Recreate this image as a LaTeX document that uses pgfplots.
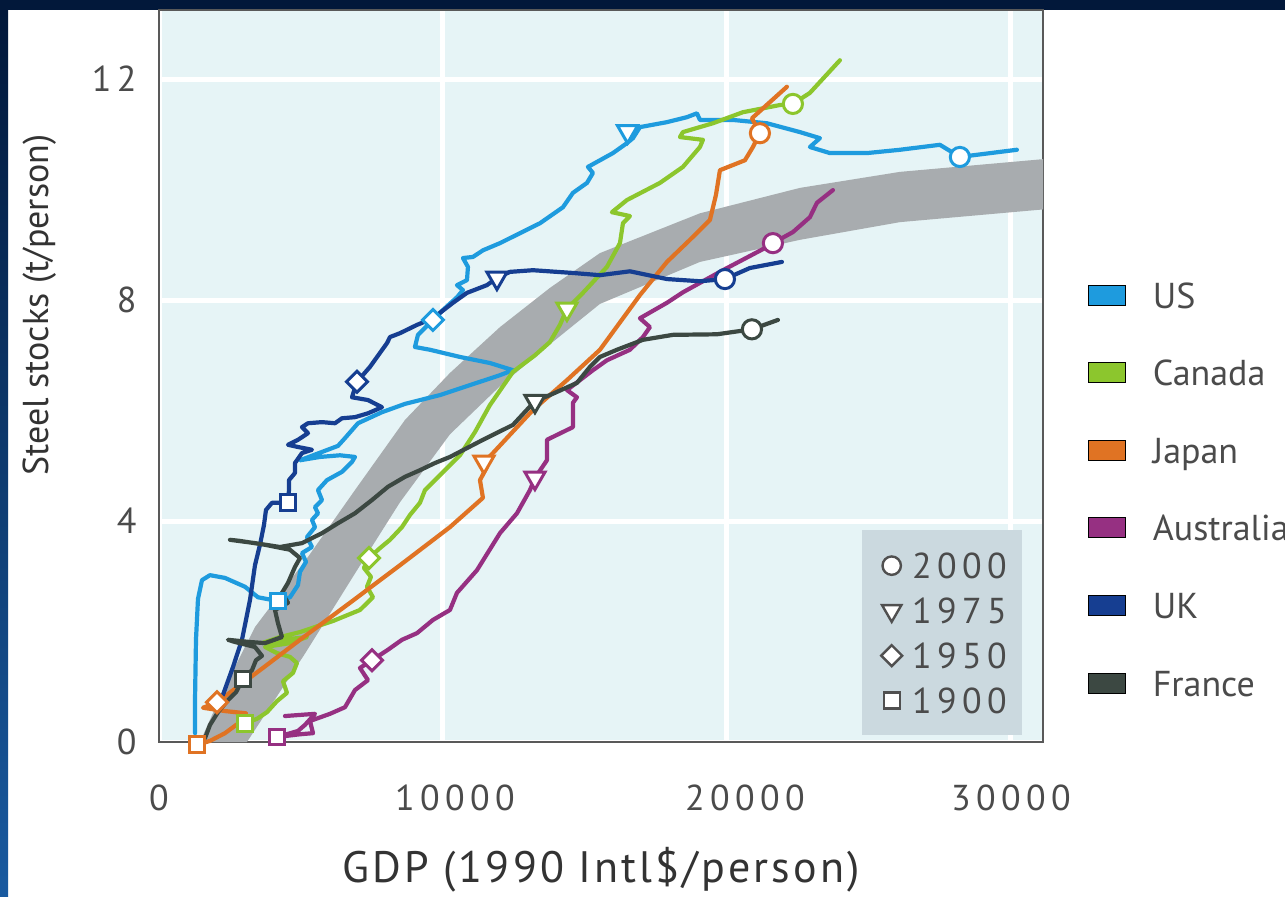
\documentclass[border=0pt]{standalone}
\usepackage{fontspec}
\setmainfont{PT Sans}
\newfontfamily\tickfont{PT Sans}[LetterSpace=15]
\newfontfamily\xlabfont{PT Sans}[LetterSpace=7]
\usepackage{pgfplots}
\pgfplotsset{compat=1.18}

\definecolor{navy}{RGB}{2,24,58}
\definecolor{stripb}{RGB}{25,90,160}
\definecolor{plotbg}{RGB}{230,244,246}
\definecolor{bandc}{RGB}{168,172,175}
\definecolor{usc}{RGB}{30,155,222}
\definecolor{cac}{RGB}{140,198,45}
\definecolor{jpc}{RGB}{224,115,35}
\definecolor{auc}{RGB}{150,48,130}
\definecolor{ukc}{RGB}{22,62,145}
\definecolor{frc}{RGB}{60,72,66}
\definecolor{insetbg}{RGB}{203,217,223}
\definecolor{txt}{RGB}{75,75,75}
\definecolor{mkgray}{RGB}{80,80,80}

\pgfplotsset{
  cline/.style={line width=2.1pt, line join=round, line cap=round, forget plot, mark=none, draw=#1},
  mc/.style={only marks, forget plot, mark=*, mark size=4.8pt, mark options={fill=white, draw=#1, line width=1.5pt}},
  mt/.style={only marks, forget plot, mark=triangle*, mark size=5.8pt, mark options={fill=white, draw=#1, line width=1.5pt, rotate=180}},
  md/.style={only marks, forget plot, mark=square*, mark size=3.7pt, mark options={fill=white, draw=#1, line width=1.5pt, rotate=45}},
  ms/.style={only marks, forget plot, mark=square*, mark size=3.9pt, mark options={fill=white, draw=#1, line width=1.5pt}},
}

\begin{document}
\begin{tikzpicture}
% page frame
\fill[navy] (0,0) rectangle (642.5pt,448pt);
\fill[white] (4pt,0) rectangle (642.5pt,443pt);
\shade[top color=navy, bottom color=stripb] (0,0) rectangle (4pt,443pt);

\begin{axis}[
  scale only axis, width=442pt, height=366pt,
  at={(79.5pt,77pt)}, anchor=origin,
  xmin=0, xmax=31130, ymin=0, ymax=13.25,
  clip=false,
  scaled x ticks=false, scaled y ticks=false,
  axis background/.style={fill=plotbg},
  axis line style={draw=black!65, line width=0.6pt},
  xtick={0,10000,20000,30000}, ytick={0,4,8,12},
  xticklabels={0,\hspace*{12pt}10000,\hspace*{18pt}20000,30000}, yticklabels={0,4,8,12},
  major tick length=0pt,
  grid=major, major grid style={white, line width=2.5pt},
  tick label style={font=\tickfont\fontsize{18}{21}\selectfont, text=txt},
  xticklabel style={inner sep=0pt, anchor=north, yshift=-21pt},
  yticklabel style={inner sep=0pt, anchor=east, xshift=-11pt},
  xlabel={GDP (1990 Intl\$/person)}, ylabel={Steel stocks (t/person)},
  xlabel style={font=\xlabfont\fontsize{22}{26}\selectfont, text=black!80, at={(axis description cs:0.5,-0.175)}, anchor=center},
  ylabel style={font=\fontsize{18}{22}\selectfont, text=black!80, at={(axis description cs:-0.135,0.597)}, anchor=center},
  legend style={at={(axis description cs:1.0509,0.6284)}, anchor=north west,
    draw=none, fill=none, inner sep=0pt, outer sep=0pt,
    font=\fontsize{18}{21}\selectfont, text=txt, row sep=25.8pt,
    nodes={inner sep=0pt, text height=13pt, text depth=0pt},
    /tikz/every odd column/.append style={column sep=13.5pt}},
  legend cell align=left,
  legend image code/.code={\fill[#1] (0pt,-5pt) rectangle (18.5pt,5pt);},
]
% grey band
\addplot[fill=bandc, draw=none, forget plot] coordinates {
(1444,0) (2218,0.89) (3380,2.08) (5246,3.35) (6901,4.56) (8662,5.83) (10246,6.68) (12007,7.51) (13767,8.22) (15528,8.85) (19049,9.57) (22570,10.03) (26091,10.32) (31130,10.55)
(31130,9.64) (26091,9.41) (22570,9.09) (19049,8.69) (15528,7.93) (13767,7.20) (12007,6.44) (10246,5.57) (8486,4.34) (6901,3.05) (5141,1.60) (3098,0)
} -- cycle;

% US
\addplot[cline=usc] coordinates {
(1268,0.16) (1268,0.76) (1303,1.86) (1373,2.59) (1514,2.93) (1796,3.02) (2324,2.97) (3028,2.81) (3486,2.62) (4190,2.55) (4613,2.62) (4894,2.84) (4965,3.08) (5176,3.26) (5035,3.42) (5387,3.53) (5211,3.71) (5493,3.89) (5387,4.02) (5598,4.14) (5493,4.25) (5739,4.38) (5598,4.56) (5915,4.74) (6443,4.89) (6796,5.07) (6901,5.16) (6373,5.19) (5669,5.16) (4965,5.10) (6303,5.36) (6549,5.50) (7007,5.77) (7852,5.97) (8662,6.12) (9894,6.28) (10950,6.46) (12007,6.64) (12464,6.73) (11655,6.86) (10598,6.97) (9542,7.10) (9014,7.15) (9119,7.37) (9648,7.64) (10000,7.82) (10493,8.05) (10704,8.18) (10493,8.27) (10845,8.36) (10880,8.60) (10704,8.76) (11056,8.78) (11408,8.90) (12007,9.03) (13415,9.39) (14225,9.68) (14577,9.94) (15070,10.12) (15281,10.30) (15105,10.41) (15528,10.53) (15985,10.66) (16478,10.84) (16690,10.93) (16936,11.13) (17887,11.22) (18591,11.31) (18943,11.38) (19049,11.26) (20211,11.26) (21408,11.20) (22570,11.04) (23274,10.93) (22922,10.77) (23626,10.66) (24929,10.66) (26091,10.72) (27499,10.81) (28203,10.59) (28661,10.62) (30210,10.72)
};
% Canada
\addplot[cline=cac] coordinates {
(3028,0.34) (3451,0.42) (3803,0.54) (4155,0.74) (4507,0.89) (4366,1.10) (4718,1.25) (4859,1.43) (4613,1.54) (4155,1.61) (3732,1.72) (4613,1.79) (5211,1.90) (4331,1.85) (3627,1.79) (4260,1.90) (4965,1.99) (6127,2.19) (7077,2.39) (7535,2.62) (7324,2.81) (7465,2.99) (7218,3.15) (7394,3.33) (7781,3.51) (8134,3.66) (8556,3.89) (8838,4.11) (9190,4.33) (9366,4.56) (9894,4.83) (10598,5.19) (11126,5.61) (11655,6.10) (12464,6.70) (13239,7.00) (13767,7.24) (14119,7.55) (14366,7.84) (14929,8.13) (15774,8.60) (16232,9.03) (16338,9.39) (16584,9.52) (15950,9.59) (16478,9.81) (17640,10.12) (18450,10.41) (19049,10.77) (19154,10.90) (18345,10.95) (18450,11.04) (19506,11.20) (20563,11.40) (21866,11.53) (22323,11.55) (22922,11.75) (23978,12.34)
};
% Japan
\addplot[cline=jpc] coordinates {
(1338,-0.05) (1796,0.02) (2324,0.16) (2852,0.36) (3063,0.52) (2324,0.56) (1549,0.62) (2042,0.72) (3556,1.30) (4965,1.85) (6725,2.52) (8486,3.20) (10246,3.89) (11408,4.42) (11303,4.74) (11549,4.98) (11443,5.07) (11760,5.23) (13169,6.01) (14366,6.55) (15528,7.10) (16936,8.09) (17887,8.69) (18697,9.09) (19401,9.45) (19612,9.90) (19753,10.35) (20633,10.53) (20915,10.77) (21161,11.02) (20880,11.29) (22112,11.86)
};
% Australia
\addplot[cline=auc] coordinates {
(4437,0.47) (5493,0.51) (5141,0.31) (4894,0.20) (4155,0.09) (4965,0.14) (5423,0.16) (5317,0.38) (6021,0.51) (6549,0.63) (6901,0.94) (7359,1.12) (7077,1.34) (7500,1.48) (8063,1.67) (8556,1.85) (9084,1.97) (9648,2.21) (10246,2.39) (10493,2.70) (11197,3.11) (12007,3.78) (12605,4.14) (13063,4.56) (13239,4.78) (13661,5.10) (13661,5.47) (14577,5.70) (14577,6.14) (14718,6.24) (14366,6.37) (15281,6.73) (15774,6.91) (16584,7.10) (17042,7.33) (17288,7.51) (16936,7.67) (17887,7.95) (18450,8.14) (19858,8.54) (21408,8.96) (21619,9.03) (22323,9.23) (22922,9.50) (23169,9.76) (23732,9.99)
};
% UK
\addplot[cline=ukc] coordinates {
(2250,0.85) (2600,1.35) (2922,1.85) (3204,2.57) (3380,3.20) (3556,3.57) (3697,3.93) (3767,4.20) (3979,4.33) (4542,4.33) (4577,4.56) (4577,4.74) (4789,4.87) (4789,5.05) (5035,5.23) (5387,5.29) (4894,5.34) (4542,5.38) (4894,5.47) (5246,5.59) (5035,5.70) (5246,5.77) (5739,5.79) (6197,5.77) (6443,5.86) (6901,5.88) (7359,5.95) (7852,6.06) (7359,6.19) (6796,6.24) (6901,6.41) (6972,6.52) (7429,6.79) (8028,7.22) (8134,7.33) (8486,7.40) (9084,7.55) (9648,7.67) (10352,7.95) (10845,8.13) (11549,8.27) (11901,8.40) (12359,8.51) (13169,8.54) (14577,8.49) (15528,8.45) (16584,8.52) (17887,8.38) (19049,8.34) (19929,8.38) (20809,8.58) (21936,8.69)
};
% France
\addplot[cline=frc] coordinates {
(1620,0.07) (1796,0.31) (2077,0.54) (2429,0.76) (2711,0.90) (2958,1.14) (3275,1.30) (3415,1.48) (3627,1.56) (3380,1.72) (2676,1.81) (2429,1.85) (3204,1.81) (3732,1.79) (4331,1.90) (4190,2.15) (4084,2.39) (4542,2.52) (4331,2.70) (4542,2.88) (4789,3.17) (4965,3.33) (4613,3.48) (3732,3.57) (2852,3.64) (2500,3.66) (3380,3.60) (4260,3.53) (5035,3.60) (5739,3.78) (6303,3.96) (6901,4.14) (7500,4.38) (8063,4.62) (8662,4.80) (9190,4.92) (9718,5.05) (10246,5.16) (11408,5.47) (12464,5.74) (13239,6.17) (13767,6.28) (14718,6.50) (15176,6.79) (15528,6.97) (16126,7.10) (17042,7.28) (18098,7.37) (19647,7.38) (20880,7.47) (21795,7.64)
};

% year markers
\addplot[ms=usc] coordinates {(4190,2.55)};
\addplot[md=usc] coordinates {(9648,7.64)};
\addplot[mt=usc] coordinates {(16500,11.05)};
\addplot[mc=usc] coordinates {(28203,10.59)};
\addplot[ms=cac] coordinates {(3028,0.34)};
\addplot[md=cac] coordinates {(7394,3.33)};
\addplot[mt=cac] coordinates {(14366,7.84)};
\addplot[mc=cac] coordinates {(22323,11.55)};
\addplot[ms=jpc] coordinates {(1338,-0.05)};
\addplot[md=jpc] coordinates {(2042,0.72)};
\addplot[mt=jpc] coordinates {(11443,5.07)};
\addplot[mc=jpc] coordinates {(21161,11.02)};
\addplot[ms=auc] coordinates {(4155,0.09)};
\addplot[md=auc] coordinates {(7500,1.48)};
\addplot[mt=auc] coordinates {(13239,4.78)};
\addplot[mc=auc] coordinates {(21619,9.03)};
\addplot[ms=ukc] coordinates {(4542,4.33)};
\addplot[md=ukc] coordinates {(6972,6.52)};
\addplot[mt=ukc] coordinates {(11901,8.40)};
\addplot[mc=ukc] coordinates {(19929,8.38)};
\addplot[ms=frc] coordinates {(2958,1.14)};
\addplot[mt=frc] coordinates {(13239,6.17)};
\addplot[mc=frc] coordinates {(20880,7.47)};

% inset box background
\fill[insetbg] (axis description cs:0.7952,0.0096) rectangle (axis description cs:0.9762,0.2896);

% country legend
\addlegendimage{fill=usc}\addlegendentry{US}
\addlegendimage{fill=cac}\addlegendentry{Canada}
\addlegendimage{fill=jpc}\addlegendentry{Japan}
\addlegendimage{fill=auc}\addlegendentry{Australia}
\addlegendimage{fill=ukc}\addlegendentry{UK}
\addlegendimage{fill=frc}\addlegendentry{France}
\end{axis}

% year-marker legend
\begin{axis}[
  hide axis, scale only axis, width=442pt, height=366pt,
  at={(79.5pt,77pt)}, anchor=origin,
  xmin=0, xmax=1, ymin=0, ymax=1,
  legend style={at={(axis description cs:0.817,0.258)}, anchor=north west,
    draw=none, fill=none, inner sep=0pt, outer sep=0pt,
    font=\tickfont\fontsize{18}{21}\selectfont, text=txt, row sep=10pt,
    nodes={inner sep=0pt, text height=12.5pt, text depth=0pt},
    /tikz/every odd column/.append style={column sep=5pt}},
  legend cell align=left,
  legend image code/.code={\draw[#1] plot coordinates {(5.5pt,0pt)};},
]
\addlegendimage{only marks, mark=*, mark size=4.6pt, mark options={fill=white, draw=mkgray, line width=1.2pt}}
\addlegendentry{2000}
\addlegendimage{only marks, mark=triangle*, mark size=5.6pt, mark options={fill=white, draw=mkgray, line width=1.2pt, rotate=180}}
\addlegendentry{1975}
\addlegendimage{only marks, mark=square*, mark size=3.7pt, mark options={fill=white, draw=mkgray, line width=1.2pt, rotate=45}}
\addlegendentry{1950}
\addlegendimage{only marks, mark=square*, mark size=4pt, mark options={fill=white, draw=mkgray, line width=1.2pt}}
\addlegendentry{1900}
\end{axis}

\pgfresetboundingbox
\useasboundingbox (0,0) rectangle (642.5pt,448pt);
\end{tikzpicture}
\end{document}
